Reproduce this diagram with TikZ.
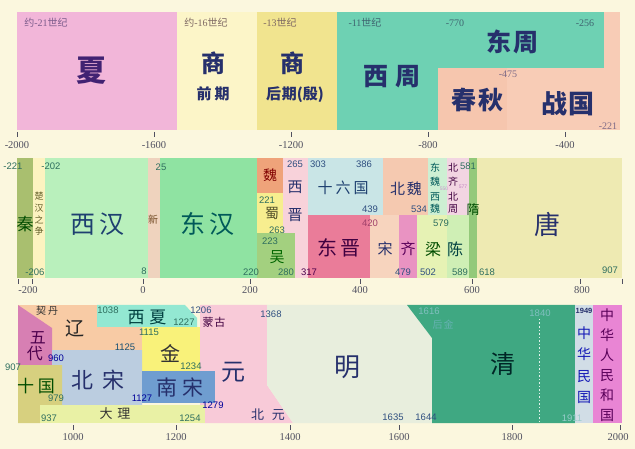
\documentclass[tikz,border=0pt]{standalone}
\usepackage{fontspec}
\setmainfont{Liberation Serif}
\newfontfamily\cjk{Noto Sans CJK SC}
\newfontfamily\sansnum{Liberation Sans}
\definecolor{bg}{HTML}{FBF7DE}
\definecolor{navy}{HTML}{26306C}
\definecolor{cxia}{HTML}{F2B6D9}
\definecolor{cshq}{HTML}{FCF5C8}
\definecolor{cshh}{HTML}{F1E48F}
\definecolor{czhou}{HTML}{6ED1B3}
\definecolor{ccq}{HTML}{F6C6AE}
\definecolor{czg}{HTML}{F8CCB6}
\definecolor{lab1}{HTML}{7C5C8C}
\definecolor{lab2}{HTML}{3F6470}
\definecolor{axc}{HTML}{505060}
\definecolor{numg}{HTML}{2E6E5E}
\definecolor{numb}{HTML}{2F4F80}
\definecolor{numr}{HTML}{A0406A}
% row 2
\definecolor{cqin}{HTML}{A9BF6F}
\definecolor{cchu}{HTML}{FCF3C0}
\definecolor{cxh}{HTML}{B9F0BC}
\definecolor{cxin}{HTML}{EFD3BE}
\definecolor{cdh}{HTML}{8FE3A2}
\definecolor{cwei}{HTML}{EFA37A}
\definecolor{cshu}{HTML}{F7EE8F}
\definecolor{cwu}{HTML}{A3D07F}
\definecolor{cxj}{HTML}{F8D2DA}
\definecolor{cslg}{HTML}{C9E5E6}
\definecolor{cbw}{HTML}{F5C9B0}
\definecolor{cdj}{HTML}{EA7C99}
\definecolor{csong}{HTML}{F7D4BE}
\definecolor{cqi}{HTML}{E993C2}
\definecolor{cliang}{HTML}{E6F2B4}
\definecolor{cchen}{HTML}{CFEFB5}
\definecolor{cdxw}{HTML}{CDEFD3}
\definecolor{cbqz}{HTML}{F2D5E2}
\definecolor{csui}{HTML}{93C97A}
\definecolor{ctang}{HTML}{EEEAB2}
% row 3
\definecolor{cwd}{HTML}{D77FB3}
\definecolor{cliao}{HTML}{F8CBA5}
\definecolor{cxx}{HTML}{93E8D2}
\definecolor{cjin}{HTML}{F9F27A}
\definecolor{cyuan}{HTML}{F8CAD8}
\definecolor{cbs}{HTML}{BBCDE0}
\definecolor{cns}{HTML}{6F9DD0}
\definecolor{csg}{HTML}{D7D07F}
\definecolor{cdl}{HTML}{E9F1A5}
\definecolor{cming}{HTML}{E8EEDD}
\definecolor{cqing}{HTML}{3FA882}
\definecolor{cmg}{HTML}{D1DDE6}
\definecolor{crm}{HTML}{E985D4}
\begin{document}
\begin{tikzpicture}[x=1pt,y=-1pt,
  cn/.style={font=\cjk\fontsize{#1}{#1}\selectfont,text=navy,inner sep=0pt},
  cnb/.style={font=\cjk\bfseries\fontsize{#1}{#1}\selectfont,text=navy,inner sep=0pt},
  nm/.style={font=\sansnum\fontsize{9.5}{9.5}\selectfont,text=numg,inner sep=0pt},
  ns/.style={font=\sansnum\fontsize{5}{5}\selectfont,text=numg,inner sep=0pt},
  r1n/.style={font=\fontsize{10}{10}\selectfont,text=lab1,inner sep=0pt},
  ax/.style={font=\fontsize{10.5}{10.5}\selectfont,text=axc,inner sep=0pt},
  tk/.style={draw=axc,line width=0.8pt}]
\fill[bg] (0,0) rectangle (635,449);
\useasboundingbox (0,0) rectangle (635,449);
% ================= ROW 1 =================
\fill[cxia] (17,12) rectangle (177,130);
\fill[cshq] (177,12) rectangle (257,130);
\fill[cshh] (257,12) rectangle (337,130);
\fill[czhou] (337,12) rectangle (438,130);
\fill[ccq] (438,68) rectangle (507,130);
\fill[czg] (507,68) rectangle (620,130);
\fill[czg] (604,12) rectangle (620,68);
\fill[czhou] (438,12) rectangle (604,68);
\node[r1n] (a1) at (46,23) {{\cjk 约}-21{\cjk 世纪}};
\node[r1n,text=lab1!70!olive] (a2) at (206,23) {{\cjk 约}-16{\cjk 世纪}};
\node[r1n,text=lab1!70!olive] (a3) at (280,23) {-13{\cjk 世纪}};
\node[r1n,text=lab2] (a4) at (365,23) {-11{\cjk 世纪}};
\node[r1n,text=lab2] (a5) at (455,23) {-770};
\node[r1n,text=lab2] (a6) at (585,23) {-256};
\node[r1n,text=lab1!60!gray] (a7) at (508,74) {-475};
\node[r1n,text=lab1!60!gray] (a8) at (608,126) {-221};
\node[cnb=30,text=navy!70!violet] (xia) at (91,71) {夏};
\node[cnb=24] (shang1) at (213,63) {商};
\node[cnb=15] (qq) at (213,94) {前\hspace{3pt}期};
\node[cnb=24] (shang2) at (292,63) {商};
\node[cnb=15] (hq) at (295,95) {后\hspace{1pt}期(殷)};
\node[cnb=25] (xz) at (392,77) {西\hspace{7pt}周};
\node[cnb=25] (dz) at (512,42) {东\hspace{2pt}周};
\node[cnb=25] (cq) at (477,100) {春\hspace{2pt}秋};
\node[cnb=26] (zg) at (568,104) {战\hspace{2pt}国};
\foreach \x in {17,154,291,428,565} \draw[tk] (\x,132) -- (\x,137);
\node[ax] (x1) at (17,145) {-2000};
\node[ax] (x2) at (154,145) {-1600};
\node[ax] (x3) at (291,145) {-1200};
\node[ax] (x4) at (428,145) {-800};
\node[ax] (x5) at (565,145) {-400};
% ================= ROW 2 =================
\fill[cqin] (17,158) rectangle (33,278);
\fill[cchu] (33,158) rectangle (45,278);
\fill[cxh] (45,158) rectangle (148,278);
\fill[cxin] (148,158) rectangle (160,278);
\fill[cdh] (160,158) rectangle (257,278);
\fill[cwei] (257,158) rectangle (283,193);
\fill[cshu] (257,193) rectangle (283,233);
\fill[cxj] (283,158) rectangle (308,278);
\fill[cwu] (257,233) rectangle (295,278);
\fill[cslg] (308,158) rectangle (383,215);
\fill[cbw] (383,158) rectangle (428,215);
\fill[cdj] (308,215) rectangle (370,278);
\fill[csong] (370,215) rectangle (399,278);
\fill[cqi] (399,215) rectangle (417,278);
\fill[cliang] (417,215) rectangle (447,278);
\fill[cchen] (447,215) rectangle (469,278);
\fill[cdxw] (428,158) rectangle (447,215);
\fill[cbqz] (447,158) rectangle (469,215);
\fill[csui] (469,158) rectangle (477,278);
\fill[ctang] (477,158) rectangle (622,278);
\node[cn=17,text=green!30!black] (qin) at (25,224) {秦};
\node[font=\cjk\fontsize{9}{11.7}\selectfont,text=olive!60!black,inner sep=0pt,align=center] (chu) at (39,214) {楚\\汉\\之\\争};
\node[cn=25,text=navy!80!teal] (xh) at (97,224) {西\hspace{4pt}汉};
\node[cn=10,text=brown!60!black] (xin) at (153,220) {新};
\node[cn=25,text=teal!70!black] (dh) at (207,224) {东\hspace{4pt}汉};
\node[cn=14,text=red!50!black] (wei) at (270,175) {魏};
\node[cn=14,text=olive!50!black] (shu) at (272,213) {蜀};
\node[cn=15,text=green!40!black] (wu) at (277,257) {吴};
\node[cn=15] (xj1) at (295,187) {西};
\node[cn=15] (xj2) at (295,215) {晋};
\node[cn=15,text=navy!80!teal] (slg) at (343,188) {十\hspace{3pt}六\hspace{3pt}国};
\node[cn=15] (bw) at (406,189) {北\hspace{2pt}魏};
\node[cn=20,text=violet!50!black] (dj) at (339,248) {东\hspace{3pt}晋};
\node[cn=15] (song) at (385,249) {宋};
\node[cn=15,text=violet!70!black] (qi) at (408,249) {齐};
\node[cn=16,text=green!30!black] (liang) at (433,249) {梁};
\node[cn=16,text=teal!50!black] (chen) at (455,249) {陈};
\node[cn=10,text=teal!70!black] (dw1) at (435,168) {东};
\node[cn=10,text=teal!70!black] (dw2) at (435,182) {魏};
\node[cn=10,text=teal!70!black] (xw1) at (435,197) {西};
\node[cn=10,text=teal!70!black] (xw2) at (435,209) {魏};
\node[cn=10,text=violet!50!black] (bq1) at (453,168) {北};
\node[cn=10,text=violet!50!black] (bq2) at (453,182) {齐};
\node[cn=10,text=violet!50!black] (bz1) at (453,197) {北};
\node[cn=10,text=violet!50!black] (bz2) at (453,209) {周};
\node[cn=13,text=green!30!black] (sui) at (473,210) {隋};
\node[cn=26] (tang) at (547,225) {唐};
\node[nm] (b1) at (13,166) {-221};
\node[nm] (b2) at (51,166) {-202};
\node[nm] (b3) at (161,167) {25};
\node[nm] (b4) at (35,272) {-206};
\node[nm] (b5) at (144,271) {8};
\node[nm] (b6) at (251,272) {220};
\node[nm,text=numb] (b7) at (295,164) {265};
\node[nm,text=numb] (b8) at (318,164) {303};
\node[nm,text=numb] (b9) at (364,164) {386};
\node[nm] (b10) at (267,200) {221};
\node[nm] (b11) at (277,230) {263};
\node[nm] (b12) at (270,241) {223};
\node[nm] (b13) at (286,272) {280};
\node[nm,text=violet!60!black] (b14) at (309,272) {317};
\node[nm,text=numb] (b15) at (370,209) {439};
\node[nm,text=numr] (b16) at (370,223) {420};
\node[nm,text=numb] (b17) at (419,209) {534};
\node[nm,text=numb] (b18) at (403,272) {479};
\node[nm,text=numb] (b19) at (428,272) {502};
\node[nm] (b20) at (460,272) {589};
\node[nm] (b21) at (441,223) {579};
\node[nm] (b22) at (468,166) {581};
\node[ns,text=violet!40] (b23) at (444,189) {550};
\node[ns,text=violet!50] (b24) at (463,187) {577};
\node[nm] (b25) at (487,272) {618};
\node[nm] (b26) at (610,270) {907};
\foreach \x in {18,32,143,250,360,472,580,622} \draw[tk] (\x,279) -- (\x,284);
\node[ax] (y1) at (28,290) {-200};
\node[ax] (y2) at (143,290) {0};
\node[ax] (y3) at (250,290) {200};
\node[ax] (y4) at (360,290) {400};
\node[ax] (y5) at (472,290) {600};
\node[ax] (y6) at (582,290) {800};
% ================= ROW 3 =================
\fill[cliao] (18,305) rectangle (142,350);
\fill[cwd] (18,305) -- (52,328) -- (52,365) -- (18,365) -- cycle;
\fill[cxx] (97,305) -- (185,305) -- (197,318) -- (197,327) -- (97,327) -- cycle;
\fill[cjin] (142,327) rectangle (200,371);
\fill[cyuan] (200,305) -- (267,305) -- (267,385) -- (293,423) -- (200,423) -- cycle;
\fill[cbs] (52,350) -- (142,350) -- (142,405) -- (62,405) -- (62,365) -- (52,365) -- cycle;
\fill[cns] (142,371) rectangle (215,403);
\fill[csg] (18,365) -- (62,365) -- (62,405) -- (40,405) -- (40,423) -- (18,423) -- cycle;
\fill[cdl] (40,405) rectangle (205,423);
\fill[cming] (267,305) -- (407,305) -- (432,338) -- (432,423) -- (293,423) -- (267,385) -- cycle;
\fill[cqing] (407,305) -- (575,305) -- (575,423) -- (432,423) -- (432,338) -- cycle;
\draw[white!85!cqing,line width=1pt,dash pattern=on 1.5pt off 2pt] (539,319) -- (539,423);
\fill[cmg] (575,305) rectangle (593,423);
\fill[crm] (593,305) rectangle (622,423);
\node[cn=10,text=black!80] (qd) at (47,311) {契\hspace{2pt}丹};
\node[cn=19,text=black!85] (liao) at (75,328) {辽};
\node[cn=16,text=violet!60!black] (wd1) at (38,338) {五};
\node[cn=16,text=violet!60!black] (wd2) at (35,354) {代};
\node[cn=17,text=teal!50!black] (xx) at (147,317) {西\hspace{5pt}夏};
\node[cn=11,text=violet!50!black] (mg) at (214,322) {蒙\hspace{1pt}古};
\node[cn=20,text=black!80] (jin) at (170,354) {金};
\node[cn=22] (bs) at (98,380) {北\hspace{9pt}宋};
\node[cn=24] (yuan) at (233,372) {元};
\node[cn=21] (ns) at (180,387) {南\hspace{6pt}宋};
\node[cn=17,text=green!30!black] (sg) at (36,386) {十\hspace{4pt}国};
\node[cn=13,text=black!80] (dl) at (115,414) {大\hspace{5pt}理};
\node[cn=13] (by) at (268,415) {北\hspace{8pt}元};
\node[cn=26] (ming) at (347,367) {明};
\node[cn=25,text=teal!30!black] (qing) at (503,364) {清};
\node[cn=10,text=teal!60!white] (hj) at (443,325) {后\hspace{1pt}金};
\node[font=\cjk\fontsize{14}{21.5}\selectfont,text=blue!50!navy,inner sep=0pt,align=center] (mgr) at (584,365) {中\\华\\民\\国};
\node[font=\cjk\fontsize{14}{20}\selectfont,text=violet!70!black,inner sep=0pt,align=center] (rm) at (607,365) {中\\华\\人\\民\\和\\国};
\node[nm] (c1) at (108,310) {1038};
\node[nm,text=numb] (c2) at (201,310) {1206};
\node[nm] (c3) at (184,322) {1227};
\node[nm] (c4) at (149,332) {1115};
\node[nm,text=teal!40!navy] (c5) at (125,347) {1125};
\node[nm,text=blue!60!black] (c6) at (56,358) {960};
\node[nm] (c7) at (13,367) {907};
\node[nm] (c8) at (191,366) {1234};
\node[nm] (c9) at (56,398) {979};
\node[nm,text=blue!60!black] (c10) at (142,398) {1127};
\node[nm,text=blue!60!black] (c11) at (213,405) {1279};
\node[nm] (c12) at (49,418) {937};
\node[nm] (c13) at (190,418) {1254};
\node[nm,text=numb] (c14) at (271,314) {1368};
\node[nm,text=teal!50!white] (c15) at (429,311) {1616};
\node[nm,text=teal!50!white] (c16) at (540,313) {1840};
\node[nm,text=numb] (c17) at (393,417) {1635};
\node[nm,text=numb] (c18) at (426,417) {1644};
\node[nm,text=teal!40!white] (c19) at (572,418) {1911};
\node[font=\sansnum\bfseries\fontsize{7.5}{7.5}\selectfont,text=navy,inner sep=0pt] (c20) at (584,311) {1949};
\foreach \x in {73,176,290,399,512,620} \draw[tk] (\x,425) -- (\x,430);
\node[ax] (z1) at (73,437) {1000};
\node[ax] (z2) at (176,437) {1200};
\node[ax] (z3) at (290,437) {1400};
\node[ax] (z4) at (399,437) {1600};
\node[ax] (z5) at (512,437) {1800};
\node[ax] (z6) at (618,437) {2000};
\end{tikzpicture}
\end{document}
